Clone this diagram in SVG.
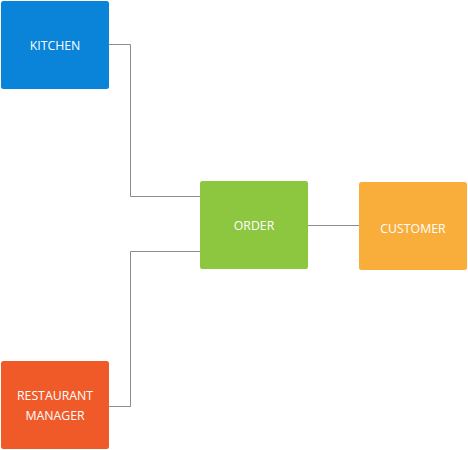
<svg xmlns="http://www.w3.org/2000/svg" width="468" height="450" viewBox="0 0 468 450">
<style>
.lbl{font-family:"Open Sans","Liberation Sans",sans-serif;font-size:12.3px;fill:#ffffff;text-anchor:middle;dominant-baseline:central}
.edge{fill:none;stroke:#8c8c8c;stroke-width:1}
</style>
<rect width="468" height="450" fill="#ffffff"/>
<g id="connectors">
<polyline class="edge" points="109,44.5 130.5,44.5 130.5,196.5 200,196.5"/>
<polyline class="edge" points="109,406.5 130.5,406.5 130.5,251.5 200,251.5"/>
<line class="edge" x1="308" y1="225.5" x2="359" y2="225.5"/>
</g>
<g id="kitchen">
<rect x="1" y="1" width="108" height="88" rx="2.5" fill="#0984d9"/>
<text class="lbl" x="55" y="45">KITCHEN</text>
</g>
<g id="order">
<rect x="200" y="181" width="108" height="88" rx="2.5" fill="#8dc63f"/>
<text class="lbl" x="254" y="225">ORDER</text>
</g>
<g id="customer">
<rect x="359" y="182" width="108" height="88" rx="2.5" fill="#f9ae3b"/>
<text class="lbl" x="413" y="228">CUSTOMER</text>
</g>
<g id="manager">
<rect x="1" y="361" width="108" height="88" rx="2.5" fill="#f05a28"/>
<text class="lbl" x="55" y="395">RESTAURANT</text>
<text class="lbl" x="55" y="415">MANAGER</text>
</g>
</svg>
